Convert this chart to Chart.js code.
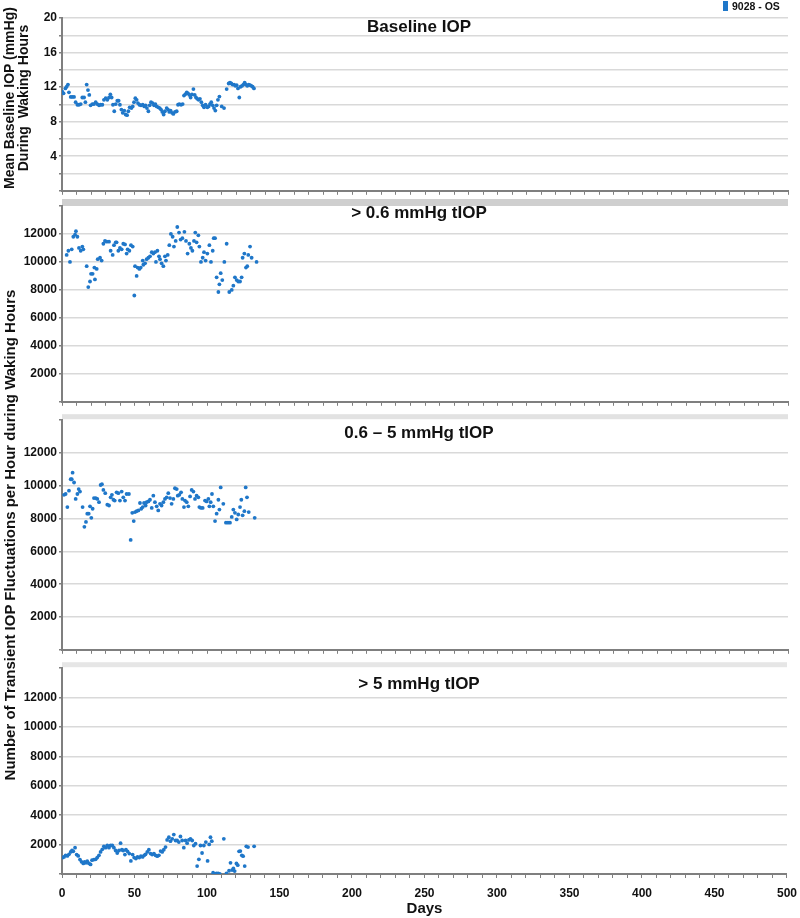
<!DOCTYPE html>
<html>
<head>
<meta charset="utf-8">
<script src="https://cdn.jsdelivr.net/npm/chart.js@4.4.1/dist/chart.umd.min.js"></script>
<style>
  body { margin: 0; background: #fff; font-family: "Liberation Sans", Arial, sans-serif; }
  #page { position: relative; width: 800px; height: 918px; overflow: hidden; }
  #page canvas { position: absolute; left: 0; }
  .ytitle { position: absolute; transform: translate(-50%, -50%) rotate(-90deg); white-space: pre; text-align: center; font-weight: bold; color: #111; }
  #legend { position: absolute; left: 723px; top: 0px; font-weight: bold; font-size: 10.5px; line-height: 13px; color: #111; white-space: nowrap; }
  #legend .swatch { display: inline-block; width: 5px; height: 10px; background: #1f77c9; margin-right: 4px; vertical-align: -1px; }
</style>
</head>
<body>
<div id="page">
  <canvas id="c1" width="800" height="200" style="top:0px"></canvas>
  <canvas id="c2" width="800" height="215" style="top:196px"></canvas>
  <canvas id="c3" width="800" height="248" style="top:411px"></canvas>
  <canvas id="c4" width="805" height="259" style="top:659px"></canvas>
  <div class="ytitle" style="left:16px; top:98px; font-size:14px; line-height:14px">Mean Baseline IOP (mmHg)
During  Waking Hours</div>
  <div class="ytitle" style="left:9px; top:535px; font-size:15px">Number of Transient IOP Fluctuations per Hour during Waking Hours</div>
  <div id="legend"><span class="swatch"></span>9028 - OS</div>
</div>
<script>
// tick labels
const dayLabels = [0, 50, 100, 150, 200, 250, 300, 350, 400, 450, 500];
const iopLabels = [4, 8, 12, 16, 20];
const countLabels = [2000, 4000, 6000, 8000, 10000, 12000];

// Baseline IOP (mmHg)
const baseDays = [0.2,1.1,2.3,3.2,4.1,4.8,6,7.1,8.3,9.4,
  10.6,11.7,12.9,14,15.2,16.1,17,17.9,18.8,19.7,
  20.9,22,23.2,24.3,25.5,26.6,27.8,28.9,30.1,31.2,
  32.4,33.3,34.2,35.1,36,37,38.1,39,39.9,40.9,
  41.8,42.9,43.8,44.8,45.7,46.6,47.8,48.7,49.6,50.5,
  51.4,52.3,53.3,54.4,55.6,56.7,57.6,58.5,59.5,60.4,
  61.3,62.4,63.4,64.3,65.2,66.3,67.3,68.2,69.1,70,
  70.9,72.1,73,73.9,74.8,75.8,76.7,77.8,79,79.9,
  80.8,82,83.1,84,84.9,85.9,86.8,87.7,88.6,89.5,
  90.5,91.4,92.3,93.2,94.1,95,96,96.9,97.8,98.9,
  100.1,101,101.9,102.8,103.8,104.7,105.6,106.5,107.4,108.4,
  110,111.6,113.4,114.8,115.7,116.6,117.5,118.5,119.4,120.3,
  121.2,122.1,123,124,124.9,125.8,126.7,127.6,128.6,129.5,
  130.4,131.3,132.2];
const baseIop = [11.47,11.28,11.85,12.04,12.3,11.4,10.87,10.87,10.87,10.26,
  9.96,9.96,10.04,10.8,10.8,10.26,12.3,11.66,11.1,9.89,
  10.04,10.04,10.26,10.04,9.89,9.96,9.96,10.53,10.72,10.53,
  10.8,11.17,10.8,9.96,9.21,10.04,10.42,10.42,9.96,9.4,
  9.02,9.28,8.83,8.75,9.21,9.66,9.58,9.77,10.26,10.72,
  10.53,10.15,9.96,9.89,9.96,9.77,9.89,9.58,9.21,9.89,
  10.26,10.15,9.89,10.04,9.77,9.66,9.58,9.4,9.13,8.83,
  9.21,9.58,9.4,9.13,9.28,9.02,8.9,9.13,9.21,9.96,
  10.04,9.96,10.04,11.02,11.17,11.4,11.28,11.1,10.8,11.17,
  11.77,11.1,10.8,10.64,10.53,10.64,10.26,9.89,9.66,9.96,
  9.66,9.77,10.04,10.26,9.89,9.58,9.28,9.89,10.53,10.91,
  9.77,9.58,11.77,12.42,12.53,12.42,12.3,12.3,12.15,12.23,
  11.85,10.8,12.04,12.15,12.3,12.53,12.3,12.15,12.3,12.23,
  12.15,12.04,11.85];

// > 0.6 mmHg tIOP
const allDays = [3.2,4.4,5.5,6.7,7.8,9,9.6,10.6,11.7,12.9,
  14,14.7,17,18.1,19.3,20,21.1,22.3,22.7,23.9,
  24.6,26.2,27.3,28.5,29.6,30.8,32.4,33.5,34.9,35.8,
  37,37.6,38.8,39.9,41.1,42.2,43.4,44.5,45.2,46.4,
  47.5,48.7,49.8,50.3,51.4,52.1,53.3,54.2,55.6,56,
  57.2,58.3,59.5,60.6,61.8,62.9,64,64.7,65.7,66.8,
  67.5,68.6,69.8,70.9,71.6,72.8,73.9,75,76.2,77.1,
  78.3,79.4,80.6,81.7,82.9,84.3,85.4,86.5,87.7,88.8,
  89.8,90.9,91.8,92.7,93.9,94.6,95.7,96.9,97.8,98.9,
  100.1,101.5,102.6,103.8,104.5,105.4,106.5,107.7,108.4,109.3,
  110.4,111.8,113.4,115.2,116.9,118,119.1,120.3,121.4,122.6,
  123.7,124.4,125.6,126.7,127.6,128.3,129.5,130.6,134];
const allCounts = [10500,10800,10000,10900,11800,11950,12200,11800,11000,10800,
  11100,10900,9700,8200,8600,9150,9150,9600,8750,9500,
  10200,10300,10100,11300,11500,11450,11450,10800,10500,11200,
  11400,11400,10800,11000,10900,11300,11250,10600,10900,10800,
  11200,11100,7600,9700,9000,9600,9500,9600,10100,9800,
  9900,10200,10300,10400,10700,10600,10700,10000,10800,10400,
  10200,9900,9700,10400,10100,10500,11200,12000,11800,11100,
  11500,12500,12100,11600,11700,12150,11500,10600,11300,11000,
  10800,11500,12100,11400,11900,11100,10000,10300,10700,10100,
  10600,11200,10000,10800,11700,11700,8900,7850,8400,9200,
  8700,10000,11300,7850,8000,8300,8900,8700,8600,8600,
  8900,10300,10600,9600,9700,10500,11100,10300,10000];

// 0.6 - 5 mmHg tIOP
const midDays = [1.4,2.5,3.7,4.8,6,6.7,7.3,8.3,9.4,10.6,
  11.5,12.4,14.2,15.4,16.5,17.4,18.4,19.3,20.2,21.1,
  22,23.2,24.3,25.5,26.6,27.5,28.5,29.8,31.2,32.4,
  33.5,34.4,35.4,36.3,37.6,38.8,39.9,41.1,42.2,43.4,
  44.5,46.1,47.3,48.4,49.4,50.3,51.4,52.6,53.7,54.6,
  55.6,56.5,57.6,58.3,59.5,60.6,61.8,62.9,64,65.2,
  66.3,67.5,68.6,69.8,70.9,72.1,73.2,74.4,75.5,76.7,
  77.8,79,79.7,80.8,82,82.9,84,84.7,85.9,87,
  88.2,89.3,90.5,91.6,92.7,93.9,94.6,95.7,96.9,98.5,
  99.6,100.8,101.5,102.4,103.3,104.2,105.4,106.5,107.7,108.4,
  109.3,111.1,112.9,114.3,115.7,116.9,118,119.1,120.3,121.4,
  122.6,123.5,124.4,125.6,126.5,127.4,128.6,132.7];
const midCounts = [9450,9500,8700,9700,10400,10400,10800,10200,9200,9500,
  9800,9650,8700,7500,7800,8300,8300,8750,8050,8600,
  9250,9250,9200,9000,10050,10100,9750,9550,8850,8800,
  9300,9450,9150,9100,9600,9550,9100,9650,9300,9100,
  9500,9500,6700,8350,7850,8400,8450,8500,8950,8600,
  8700,8950,8800,9000,9050,9150,8650,9400,9000,8750,
  8500,8900,8800,9000,9200,9300,9550,9250,8900,9200,
  9850,9800,9400,9450,9600,9200,8700,9100,9000,8750,
  9350,9750,9650,9200,9400,9300,8700,8650,8650,9100,
  9050,9200,8750,9000,9500,8750,7850,8300,9150,8550,
  9900,8900,7750,7750,7750,8100,8550,8350,7950,8250,
  8700,9150,8200,8450,9900,9300,8400,8050];

// > 5 mmHg tIOP
const bigDays = [0.5,1.4,2.5,3.7,4.8,6,6.9,7.8,9,10.1,
  11.2,12.4,13.5,14.7,15.6,16.5,17.4,18.6,19.7,20.7,
  22,23.2,24.3,25.5,26.6,27.8,28.9,30.1,31.2,32.4,
  33.5,34.7,35.8,37,38.1,39.3,40.4,41.3,42.2,43.4,
  44.1,45.2,46.4,47.5,48.7,49.8,51,52.1,53.3,54.4,
  55.6,56.7,57.6,58.8,59.9,61.1,62.2,63.4,64.5,65.7,
  66.8,68,69.1,70.2,71.4,72.5,73.7,74.8,76,77.1,
  78.3,79.4,80.6,81.7,82.9,84,85.2,86.3,87.5,88.6,
  89.8,90.9,92.1,93.2,94.4,95.5,96.6,97.8,99.2,100.4,
  101.5,102.4,103.3,104.2,105.4,106.5,107.7,108.8,111.6,113.4,
  115.2,116.2,117.3,118.2,119.1,120.3,121.2,122.1,123,124,
  124.9,126,127.1,128.3,132.5];
const bigCounts = [1120,1160,1270,1230,1340,1500,1600,1540,1790,1320,
  1230,980,830,720,830,760,870,720,650,940,
  980,1000,1120,1270,1500,1680,1880,1790,1940,1790,
  1940,1940,1790,1600,1430,1600,2100,1650,1600,1320,
  1650,1540,1390,890,1320,1120,1050,1160,1120,1210,
  1160,1270,1340,1500,1650,1390,1320,1390,1270,1210,
  1270,1560,1500,1650,1830,2320,2500,2230,2390,2680,
  2280,2280,2170,2550,2280,1790,2280,2100,2320,2390,
  2280,1940,2060,540,1000,1940,1430,1940,2170,890,
  2010,2500,2230,90,0,40,40,0,2390,40,
  220,760,270,380,200,720,600,1540,1560,1270,
  1210,540,1880,1830,1880];

const FONT = '"Liberation Sans", Arial, sans-serif';
const POINT = '#1f77c9';
const AXIS = '#7f7f7f';
const GRID = '#d9d9d9';

function toPoints(days, vals) {
  return days.map((d, i) => ({ x: d, y: vals[i] }));
}

// grey strip above a panel and the panel title inside the plot
const panelDecor = {
  id: 'panelDecor',
  beforeDraw(chart, args, opts) {
    const { ctx, chartArea } = chart;
    if (opts.stripColor) {
      ctx.save();
      ctx.fillStyle = opts.stripColor;
      ctx.fillRect(chartArea.left, chartArea.top - opts.stripGap - opts.stripHeight,
        chartArea.right - chartArea.left, opts.stripHeight);
      ctx.restore();
    }
  },
  afterDraw(chart, args, opts) {
    const { ctx, chartArea } = chart;
    ctx.save();
    ctx.font = 'bold 17px ' + FONT;
    ctx.fillStyle = '#111';
    ctx.textAlign = 'center';
    ctx.textBaseline = 'middle';
    ctx.fillText(opts.title, 419, chartArea.top + opts.titleOffset);
    ctx.restore();
  }
};

function xScale(bottom) {
  return {
    type: 'linear',
    min: 0,
    max: 500,
    border: { color: AXIS, width: 2 },
    grid: { drawOnChartArea: false, drawTicks: true, tickLength: 4, tickColor: AXIS },
    ticks: {
      stepSize: 10,
      autoSkip: false,
      maxRotation: 0,
      display: bottom,
      padding: 8,
      color: '#111',
      font: { family: FONT, size: 12, weight: 'bold' },
      callback: v => dayLabels.includes(v) ? String(v) : ''
    },
    title: {
      display: bottom,
      text: 'Days',
      color: '#111',
      font: { family: FONT, size: 15, weight: 'bold' },
      padding: { top: 0, bottom: 0 }
    },
    afterFit: s => { s.height = bottom ? 44 : 5; }
  };
}

function yScale(max, step, labels, hideTop) {
  return {
    min: 0,
    max: max,
    border: { color: AXIS, width: 2 },
    grid: {
      color: c => (c.tick && (c.tick.value === 0 || (hideTop && c.tick.value === max))) ? 'rgba(0,0,0,0)' : GRID,
      lineWidth: 1.5,
      tickLength: 3,
      tickColor: AXIS
    },
    ticks: {
      stepSize: step,
      autoSkip: false,
      padding: 2,
      color: '#111',
      font: { family: FONT, size: 12, weight: 'bold' },
      callback: v => labels.includes(v) ? String(v) : ''
    },
    afterFit: s => { s.width = 62; }
  };
}

function makePanel(id, points, y, bottom, padTop, decor) {
  return new Chart(document.getElementById(id), {
    type: 'scatter',
    data: {
      datasets: [{
        label: '9028 - OS',
        data: points,
        backgroundColor: POINT,
        borderWidth: 0,
        pointRadius: 1.9,
        pointHoverRadius: 1.9
      }]
    },
    options: {
      responsive: false,
      animation: false,
      layout: { padding: { top: padTop, right: 12, left: 0, bottom: 0 } },
      scales: { x: xScale(bottom), y: y },
      plugins: {
        legend: { display: false },
        tooltip: { enabled: false },
        panelDecor: decor
      }
    },
    plugins: [panelDecor]
  });
}

makePanel('c1', toPoints(baseDays, baseIop), yScale(20, 2, iopLabels, false), false, 18,
  { title: 'Baseline IOP', titleOffset: 9 });
makePanel('c2', toPoints(allDays, allCounts), yScale(14000, 2000, countLabels, true), false, 10,
  { title: '> 0.6 mmHg tIOP', titleOffset: 7, stripColor: '#cfcfcf', stripGap: 0, stripHeight: 7 });
makePanel('c3', toPoints(midDays, midCounts), yScale(14000, 2000, countLabels, true), false, 6,
  { title: '0.6 – 5 mmHg tIOP', titleOffset: 13, stripColor: '#e2e2e2', stripGap: 1, stripHeight: 5 });
makePanel('c4', toPoints(bigDays, bigCounts), yScale(14000, 2000, countLabels, true), true, 7,
  { title: '> 5 mmHg tIOP', titleOffset: 16, stripColor: '#e6e6e6', stripGap: 1, stripHeight: 5 });
</script>
</body>
</html>
